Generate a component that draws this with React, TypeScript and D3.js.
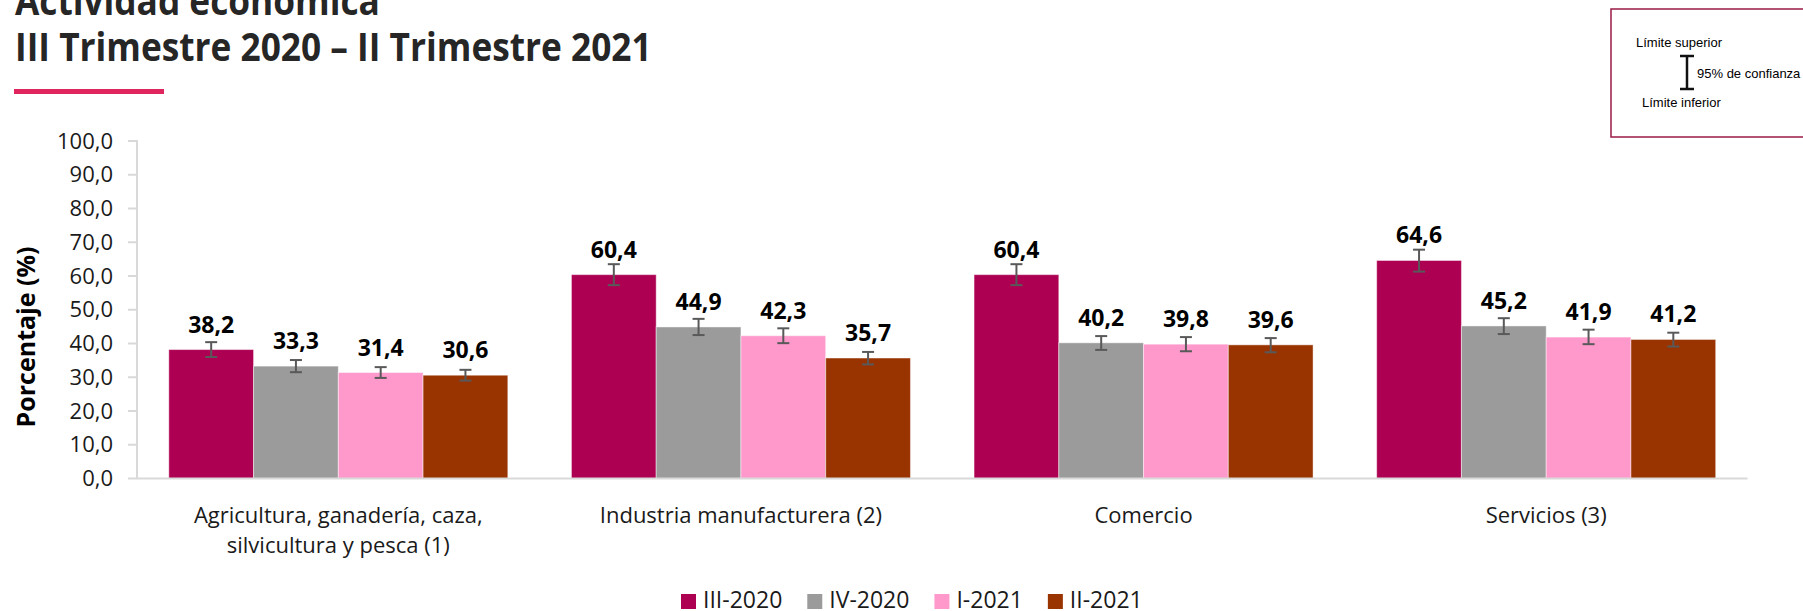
import React, { useEffect, useRef } from 'react'
import * as d3 from 'd3'

// categories (line breaks marked with \n)
const categories = [
  'Agricultura, ganadería, caza,\nsilvicultura y pesca (1)',
  'Industria manufacturera (2)',
  'Comercio',
  'Servicios (3)',
]
const seriesNames = ['III-2020', 'IV-2020', 'I-2021', 'II-2021']
const seriesColors = ['#AD0052', '#9B9B9B', '#FF99CC', '#993300']

// values per series, one per category
const valuesIII2020 = [38.2, 60.4, 60.4, 64.6]
const valuesIV2020 = [33.3, 44.9, 40.2, 45.2]
const valuesI2021 = [31.4, 42.3, 39.8, 41.9]
const valuesII2021 = [30.6, 35.7, 39.6, 41.2]

// 95% confidence limits
const lowerIII2020 = [36.0, 57.3, 57.3, 61.3]
const upperIII2020 = [40.4, 63.5, 63.5, 67.8]
const lowerIV2020 = [31.5, 42.5, 38.1, 42.8]
const upperIV2020 = [35.1, 47.3, 42.2, 47.5]
const lowerI2021 = [29.8, 40.1, 37.7, 39.8]
const upperI2021 = [33.0, 44.5, 41.9, 44.1]
const lowerII2021 = [29.0, 33.8, 37.4, 39.1]
const upperII2021 = [32.2, 37.5, 41.6, 43.2]

const yTicks = [0, 10, 20, 30, 40, 50, 60, 70, 80, 90, 100]

const values = [valuesIII2020, valuesIV2020, valuesI2021, valuesII2021]
const lowers = [lowerIII2020, lowerIV2020, lowerI2021, lowerII2021]
const uppers = [upperIII2020, upperIV2020, upperI2021, upperII2021]

const W = 1803
const H = 611
const FONT = "'Open Sans', 'Noto Sans', sans-serif"

interface Bar {
  cat: string
  ser: string
  si: number
  value: number
  lo: number
  hi: number
}

function App() {
  const ref = useRef<SVGSVGElement>(null)

  useEffect(() => {
    document.body.style.margin = '0'
    const svg = d3.select(ref.current)
    svg.selectAll('*').remove()

    const fmt = (v: number) => d3.format('.1f')(v).replace('.', ',')

    // title (squeezed horizontally to the width of the original narrow font)
    const title = svg.append('g')
    title.append('text')
      .attr('x', 15).attr('y', 15)
      .attr('font-family', FONT).attr('font-weight', 700).attr('font-size', 40)
      .attr('fill', '#262626')
      .text('Actividad económica')
    const t2 = title.append('text')
      .attr('x', 15).attr('y', 61)
      .attr('font-family', FONT).attr('font-weight', 700).attr('font-size', 40)
      .attr('fill', '#262626')
      .text('III Trimestre 2020 – II Trimestre 2021')
    const tLen = (t2.node() as SVGTextElement).getComputedTextLength()
    const sx = 637 / tLen
    title.attr('transform', `translate(${15 - 15 * sx},0) scale(${sx},1)`)

    svg.append('rect')
      .attr('x', 14).attr('y', 89).attr('width', 150).attr('height', 5)
      .attr('fill', '#E0245E')

    // confidence box
    const box = svg.append('g')
    box.append('rect')
      .attr('x', 1611).attr('y', 9).attr('width', 230).attr('height', 128)
      .attr('fill', 'none').attr('stroke', '#9B1B47').attr('stroke-width', 1.5)
    const boxFont = "'Liberation Sans', Arial, sans-serif"
    box.append('text').attr('x', 1636).attr('y', 47)
      .attr('font-family', boxFont).attr('font-size', 13).attr('fill', '#000')
      .text('Límite superior')
    box.append('text').attr('x', 1697).attr('y', 78)
      .attr('font-family', boxFont).attr('font-size', 13).attr('fill', '#000')
      .text('95% de confianza')
    box.append('text').attr('x', 1642).attr('y', 107)
      .attr('font-family', boxFont).attr('font-size', 13).attr('fill', '#000')
      .text('Límite inferior')
    const beam = box.append('g').attr('stroke', '#111').attr('stroke-width', 2.5)
    beam.append('line').attr('x1', 1687).attr('x2', 1687).attr('y1', 56).attr('y2', 89)
    beam.append('line').attr('x1', 1680).attr('x2', 1694).attr('y1', 56).attr('y2', 56)
    beam.append('line').attr('x1', 1680).attr('x2', 1694).attr('y1', 89).attr('y2', 89)

    // scales
    const left = 137
    const right = 1747.5
    const top = 141
    const bottom = 478.5

    const x0 = d3.scaleBand().domain(categories).range([left, right]).padding(0)
    const gap = x0.bandwidth() * 0.079
    const x1 = d3.scaleBand().domain(seriesNames).range([gap, x0.bandwidth() - gap]).padding(0)
    const y = d3.scaleLinear().domain([0, 100]).range([bottom, top])

    // y axis
    const yAxis = svg.append('g')
    yAxis.append('line')
      .attr('x1', left).attr('x2', left).attr('y1', top - 1).attr('y2', bottom)
      .attr('stroke', '#D9D9D9').attr('stroke-width', 2)
    yAxis.selectAll('.tick')
      .data(yTicks)
      .enter()
      .append('line')
      .attr('x1', left - 9).attr('x2', left)
      .attr('y1', d => y(d)).attr('y2', d => y(d))
      .attr('stroke', '#D9D9D9').attr('stroke-width', 2)
    yAxis.selectAll('.tick-label')
      .data(yTicks)
      .enter()
      .append('text')
      .attr('x', 113).attr('y', d => y(d))
      .attr('dy', '0.35em')
      .attr('text-anchor', 'end')
      .attr('font-family', FONT).attr('font-size', 22).attr('fill', '#1a1a1a')
      .text(d => fmt(d))

    svg.append('text')
      .attr('transform', 'translate(35,337) rotate(-90)')
      .attr('text-anchor', 'middle')
      .attr('font-family', FONT).attr('font-weight', 700).attr('font-size', 25)
      .attr('fill', '#000')
      .text('Porcentaje (%)')

    // bars
    const bars: Bar[] = []
    categories.forEach((cat, ci) => {
      seriesNames.forEach((ser, si) => {
        bars.push({ cat, ser, si, value: values[si][ci], lo: lowers[si][ci], hi: uppers[si][ci] })
      })
    })
    const bx = (d: Bar) => x0(d.cat)! + x1(d.ser)!
    const bw = x1.bandwidth()

    svg.append('g').selectAll('rect')
      .data(bars)
      .enter()
      .append('rect')
      .attr('x', d => bx(d))
      .attr('y', d => y(d.value))
      .attr('width', bw)
      .attr('height', d => bottom - y(d.value))
      .attr('fill', d => seriesColors[d.si])
      .attr('stroke', '#ffffff').attr('stroke-opacity', 0.45).attr('stroke-width', 1)

    // x axis line
    svg.append('line')
      .attr('x1', left).attr('x2', right).attr('y1', bottom).attr('y2', bottom)
      .attr('stroke', '#D9D9D9').attr('stroke-width', 2)

    // error bars
    const err = svg.append('g').attr('stroke', '#595959').attr('stroke-width', 2)
    const cx = (d: Bar) => bx(d) + bw / 2
    err.selectAll('.stem').data(bars).enter().append('line')
      .attr('x1', cx).attr('x2', cx)
      .attr('y1', d => y(d.hi)).attr('y2', d => y(d.lo))
    err.selectAll('.cap-hi').data(bars).enter().append('line')
      .attr('x1', d => cx(d) - 6).attr('x2', d => cx(d) + 6)
      .attr('y1', d => y(d.hi)).attr('y2', d => y(d.hi))
    err.selectAll('.cap-lo').data(bars).enter().append('line')
      .attr('x1', d => cx(d) - 6).attr('x2', d => cx(d) + 6)
      .attr('y1', d => y(d.lo)).attr('y2', d => y(d.lo))

    // value labels
    svg.append('g').selectAll('text')
      .data(bars)
      .enter()
      .append('text')
      .attr('x', cx)
      .attr('y', d => y(d.value) - 17)
      .attr('text-anchor', 'middle')
      .attr('font-family', FONT).attr('font-weight', 700).attr('font-size', 23)
      .attr('fill', '#000')
      .text(d => fmt(d.value))

    // category labels
    const catLabels = svg.append('g').selectAll('text')
      .data(categories)
      .enter()
      .append('text')
      .attr('x', d => x0(d)! + x0.bandwidth() / 2)
      .attr('y', 523)
      .attr('text-anchor', 'middle')
      .attr('font-family', FONT).attr('font-size', 22).attr('fill', '#1a1a1a')
    catLabels.each(function (d) {
      const t = d3.select(this)
      d.split('\n').forEach((line, i) => {
        t.append('tspan')
          .attr('x', x0(d)! + x0.bandwidth() / 2)
          .attr('dy', i === 0 ? 0 : 30)
          .text(line)
      })
    })

    // legend
    const legend = svg.append('g')
    let lx = 681
    seriesNames.forEach((name, i) => {
      legend.append('rect')
        .attr('x', lx).attr('y', 594).attr('width', 15).attr('height', 15)
        .attr('fill', seriesColors[i])
      const t = legend.append('text')
        .attr('x', lx + 22).attr('y', 608)
        .attr('font-family', FONT).attr('font-size', 23).attr('fill', '#1a1a1a')
        .text(name)
      const len = (t.node() as SVGTextElement).getComputedTextLength()
      lx = lx + 22 + len + 25
    })
  }, [])

  return <svg ref={ref} width={W} height={H} style={{ display: 'block' }} />
}

export default App
